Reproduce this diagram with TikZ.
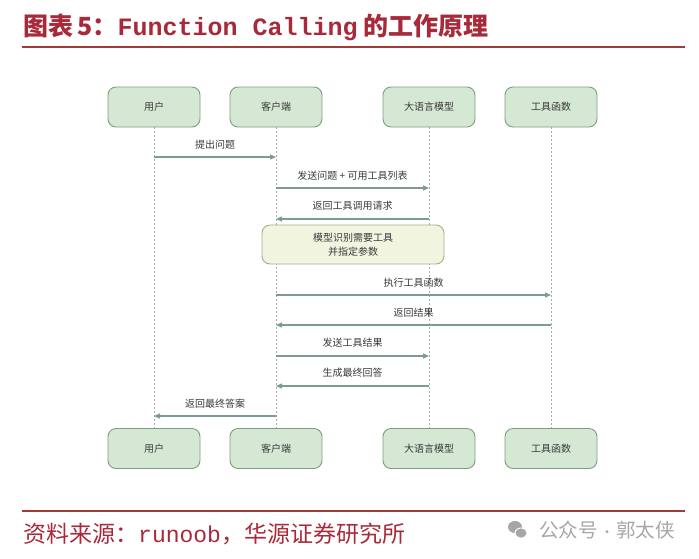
\documentclass[tikz,border=0pt]{standalone}
\usepackage{fontspec}
\setmainfont{Noto Sans CJK SC}
\newfontfamily\monofont{Liberation Mono}
\usetikzlibrary{arrows.meta}
\definecolor{titlered}{HTML}{A82A3A}
\definecolor{linered}{HTML}{A23A3A}
\definecolor{boxfill}{HTML}{D5E8D4}
\definecolor{boxdraw}{HTML}{7F9C80}
\definecolor{arrowc}{HTML}{7C9A96}
\definecolor{notefill}{HTML}{F1F4DE}
\definecolor{notedraw}{HTML}{A5AE8C}
\definecolor{lifec}{HTML}{A8A8A8}
\definecolor{wmgray}{HTML}{A6A6A6}
\definecolor{labelc}{HTML}{3A3A3A}
\tikzset{
  actor/.style={draw=boxdraw, fill=boxfill, line width=0.9pt, rounded corners=8pt,
    minimum width=92pt, minimum height=40pt, inner sep=0pt,
    font=\fontsize{10}{12}\selectfont, text=labelc},
  lifeline/.style={draw=lifec, dashed, dash pattern=on 2pt off 2pt, line width=0.5pt},
  msg/.style={draw=arrowc, line width=1.2pt, -{Triangle[length=6pt,width=5pt]}},
  msglabel/.style={font=\fontsize{10}{12}\selectfont, text=labelc, inner sep=0pt},
  note/.style={draw=notedraw, fill=notefill, line width=0.9pt, rounded corners=8pt,
    minimum width=182pt, minimum height=39pt, inner sep=0pt, align=center,
    font=\fontsize{10}{14.5}\selectfont, text=labelc},
}
\begin{document}
\begin{tikzpicture}[x=1pt,y=-1pt]
\useasboundingbox (0,0) rectangle (699,558);
% title
\node[anchor=west, inner sep=0pt, text=titlered, font=\bfseries\fontsize{25}{27}\selectfont] (title) at (23,27)
  {图表\,5：{\monofont Function Calling} 的工作原理};
\draw[linered, line width=2.4pt] (22,47) coordinate (tl1) -- (685,47) coordinate (tl2);
% actors top
\node[actor] (uT) at (154,107) {用户};
\node[actor] (cT) at (276,107) {客户端};
\node[actor] (mT) at (429,107) {大语言模型};
\node[actor] (fT) at (551,107) {工具函数};
% actors bottom
\node[actor] (uB) at (154,448.5) {用户};
\node[actor] (cB) at (276,448.5) {客户端};
\node[actor] (mB) at (429,448.5) {大语言模型};
\node[actor] (fB) at (551,448.5) {工具函数};
% lifelines
\draw[lifeline] (uT) -- (uB);
\draw[lifeline] (cT) -- (cB);
\draw[lifeline] (mT) -- (mB);
\draw[lifeline] (fT) -- (fB);
% message points
\coordinate (u1) at (154,157); \coordinate (c1) at (276,157);
\coordinate (c2) at (276,188); \coordinate (m2) at (429,188);
\coordinate (m3) at (429,219); \coordinate (c3) at (276,219);
\coordinate (c5) at (276,295); \coordinate (f5) at (551,295);
\coordinate (f6) at (551,325); \coordinate (c6) at (276,325);
\coordinate (c7) at (276,356); \coordinate (m7) at (429,356);
\coordinate (m8) at (429,386); \coordinate (c8) at (276,386);
\coordinate (c9) at (276,416); \coordinate (u9) at (154,416);
% messages
\draw[msg] (u1) -- (c1);
\node[msglabel] (l1) at (215,145) {提出问题};
\draw[msg] (c2) -- (m2);
\node[msglabel] (l2) at (352.5,176) {发送问题 + 可用工具列表};
\draw[msg] (m3) -- (c3);
\node[msglabel] (l3) at (352.5,206) {返回工具调用请求};
\node[note] (n4) at (353,244.5) {模型识别需要工具\\并指定参数};
\draw[msg] (c5) -- (f5);
\node[msglabel] (l5) at (413.5,283) {执行工具函数};
\draw[msg] (f6) -- (c6);
\node[msglabel] (l6) at (413.5,313) {返回结果};
\draw[msg] (c7) -- (m7);
\node[msglabel] (l7) at (352.5,343) {发送工具结果};
\draw[msg] (m8) -- (c8);
\node[msglabel] (l8) at (352.5,373) {生成最终回答};
\draw[msg] (c9) -- (u9);
\node[msglabel] (l9) at (215,404) {返回最终答案};
% footer
\draw[linered, line width=2.4pt] (22,511) coordinate (bl1) -- (685,511) coordinate (bl2);
\node[anchor=west, inner sep=0pt, text=titlered, font=\fontsize{23}{25}\selectfont] (src) at (23,534)
  {资料来源：{\monofont runoob}，华源证券研究所};
% watermark
\fill[wmgray] (515,527) ellipse (7pt and 6pt);
\fill[white] (521,533) ellipse (6.5pt and 5.5pt);
\fill[wmgray] (521,533) ellipse (5.5pt and 4.6pt);
\node[anchor=west, inner sep=0pt, text=wmgray, font=\fontsize{19.5}{21}\selectfont] (wm) at (539,530)
  {公众号{\fontsize{14}{16}\selectfont\,·\,}郭太侠};
\end{tikzpicture}
\end{document}
